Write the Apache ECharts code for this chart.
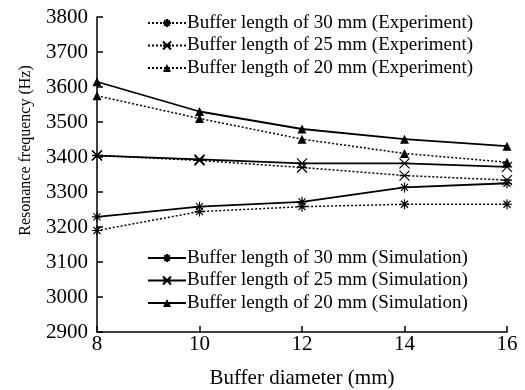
<!DOCTYPE html>
<html><head><meta charset="utf-8">
<script src="https://cdn.jsdelivr.net/npm/echarts@6/dist/echarts.min.js"></script>
<style>html,body{margin:0;padding:0;background:#fff}#c{width:525px;height:390px}</style>
</head><body><div id="c"></div>
<script>
const diameters = [8, 10, 12, 14, 16];
const exp30 = [3190, 3244, 3258, 3265, 3265];
const exp25 = [3405, 3390, 3370, 3347, 3334];
const exp20 = [3575, 3510, 3451, 3410, 3385];
const sim30 = [3229, 3258, 3272, 3313, 3325];
const sim25 = [3404, 3393, 3382, 3382, 3372];
const sim20 = [3615, 3530, 3480, 3451, 3431];
const yTicks = [2900, 3800, 100];
const names = {
  e30: 'Buffer length of 30 mm (Experiment)',
  e25: 'Buffer length of 25 mm (Experiment)',
  e20: 'Buffer length of 20 mm (Experiment)',
  s30: 'Buffer length of 30 mm (Simulation)',
  s25: 'Buffer length of 25 mm (Simulation)',
  s20: 'Buffer length of 20 mm (Simulation)'
};
const star = 'path://M0,-5L0,5M-5,0L5,0M-3.5,-3.5L3.5,3.5M-3.5,3.5L3.5,-3.5';
const cross = 'path://M-4,-4L4,4M-4,4L4,-4M-4,0L4,0';
const font = 'Liberation Serif';
function pts(arr){ return diameters.map((d,i)=>[d, arr[i]]); }
function ser(name, arr, sym, dotted){
  const tri = sym === 'triangle';
  return {
    name, type:'line', data: pts(arr), symbol: sym, symbolSize: tri ? 9 : 10,
    lineStyle:{color:'#000', width: dotted ? 1.5 : 1.8, type: dotted ? [2,2] : 'solid'},
    itemStyle:{color: tri ? '#000' : 'none', borderColor:'#000', borderWidth: tri ? 0 : 1.2},
    emphasis:{disabled:true}, animation:false, z: dotted ? 3 : 2
  };
}
const legendText = {fontFamily:font, fontSize:19, color:'#000', padding:[0,0,0,-4], lineHeight:20};
const chart = echarts.init(document.getElementById('c'));
chart.setOption({
  backgroundColor:'#fff',
  animation:false,
  grid:{left:97, right:18, top:17, bottom:58, containLabel:false, outerBoundsMode:'none'},
  legend:[
    {data:[names.e30, names.e25, names.e20], orient:'vertical', left:142, top:8, itemWidth:38, itemHeight:10, itemGap:2.5, textStyle:legendText},
    {data:[names.s30, names.s25, names.s20], orient:'vertical', left:142, top:243, itemWidth:38, itemHeight:10, itemGap:2.5, textStyle:legendText}
  ],
  xAxis:{type:'value', min:8, max:16, interval:2,
    name:'Buffer diameter (mm)', nameLocation:'middle', nameGap:36,
    nameTextStyle:{fontFamily:font, fontSize:21, color:'#000'},
    axisLine:{lineStyle:{color:'#000', width:1.5}},
    axisTick:{inside:true, length:6, lineStyle:{color:'#000', width:1.5}},
    axisLabel:{fontFamily:font, fontSize:21, color:'#000', margin:2},
    splitLine:{show:false}},
  yAxis:{type:'value', min:yTicks[0], max:yTicks[1], interval:yTicks[2],
    name:'Resonance frequency (Hz)', nameLocation:'middle', nameGap:63,
    nameTextStyle:{fontFamily:font, fontSize:16, color:'#000', padding:[0,0,0,48]},
    axisLine:{show:true, lineStyle:{color:'#000', width:1.5}},
    axisTick:{show:true, inside:true, length:6, lineStyle:{color:'#000', width:1.5}},
    axisLabel:{fontFamily:font, fontSize:21, color:'#000', margin:9, formatter:(v)=>String(v)},
    splitLine:{show:false}},
  series:[
    ser(names.e30, exp30, star, true),
    ser(names.e25, exp25, cross, true),
    ser(names.e20, exp20, 'triangle', true),
    ser(names.s30, sim30, star, false),
    ser(names.s25, sim25, cross, false),
    ser(names.s20, sim20, 'triangle', false)
  ]
});
</script></body></html>
